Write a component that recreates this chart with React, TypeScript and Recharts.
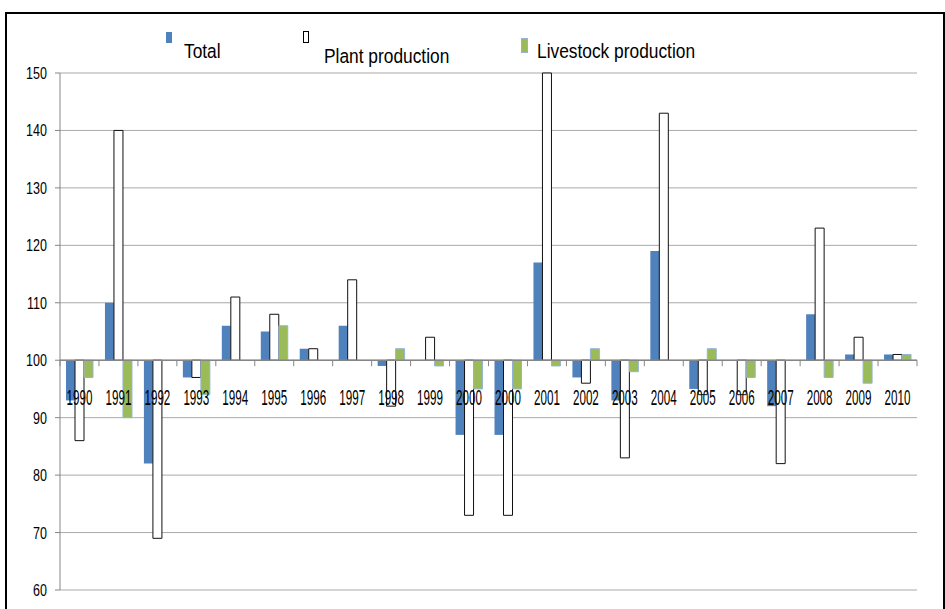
import { Bar, BarChart, CartesianGrid, ReferenceLine, XAxis, YAxis } from 'recharts'

// values (index = 100 means no change)
const years = ['1990', '1991', '1992', '1993', '1994', '1995', '1996', '1997', '1998', '1999', '2000', '2000', '2001', '2002', '2003', '2004', '2005', '2006', '2007', '2008', '2009', '2010']
const total = [93, 110, 82, 97, 106, 105, 102, 106, 99, 100, 87, 87, 117, 97, 93, 119, 95, 100, 92, 108, 101, 101]
const plant = [86, 140, 69, 97, 111, 108, 102, 114, 92, 104, 73, 73, 150, 96, 83, 143, 94, 94, 82, 123, 104, 101]
const livestock = [97, 90, 100, 94, 100, 106, 100, 100, 102, 99, 95, 95, 99, 102, 98, 100, 102, 97, 100, 97, 96, 101]
const yTicks = [60, 70, 80, 90, 100, 110, 120, 130, 140, 150]

const BASE = 100
const Y_MIN = 60
const Y_MAX = 150

const W = 945
const H = 609
const MARGIN = { top: 73, right: 28, bottom: 18, left: 0 }
const Y_AXIS_W = 60
const X_AXIS_H = 1
const PLOT_H = H - MARGIN.top - MARGIN.bottom - X_AXIS_H
const PLOT_W = W - MARGIN.left - MARGIN.right - Y_AXIS_W
const BAND = PLOT_W / years.length
const ZERO_Y = MARGIN.top + ((Y_MAX - BASE) / (Y_MAX - Y_MIN)) * PLOT_H

const BLUE = '#4F81BD'
const GREEN = '#9BBB59'
const AXIS = '#868686'
const GRID = '#A9A9A9'
// Arial-metric font squeezed horizontally: the source image is stretched tall
const FONT = "'Liberation Sans', Arial, sans-serif"

function NarrowText({ x, y, size, squeeze, anchor = 'start', children }: any) {
  return (
    <text
      transform={`translate(${x},${y}) scale(${squeeze},1)`}
      textAnchor={anchor}
      fontFamily={FONT}
      fontSize={size}
      fill="#000"
    >
      {children}
    </text>
  )
}

// each bar runs from the 100 baseline to its value
const rows = years.map((year, i) => ({
  year,
  total: [BASE, total[i]],
  plant: [BASE, plant[i]],
  livestock: [BASE, livestock[i]],
}))

function YearTick(props: any) {
  const { x, payload, index } = props
  const half = BAND / 2
  return (
    <g>
      <line x1={x - half} x2={x - half} y1={ZERO_Y} y2={ZERO_Y + 6} stroke={AXIS} />
      {index === years.length - 1 && (
        <line x1={x + half} x2={x + half} y1={ZERO_Y} y2={ZERO_Y + 6} stroke={AXIS} />
      )}
      <NarrowText x={x} y={ZERO_Y + 45} size={22} squeeze={0.53} anchor="middle">
        {payload.value}
      </NarrowText>
    </g>
  )
}

function ValueTick(props: any) {
  const { x, y, payload } = props
  return (
    <NarrowText x={x} y={y + 6} size={16.7} squeeze={0.75} anchor="end">
      {payload.value}
    </NarrowText>
  )
}

function ChartLegend() {
  return (
    <svg width={W} height={70} style={{ position: 'absolute', left: 0, top: 0 }}>
      <rect x={166} y={32} width={6} height={11} fill={BLUE} />
      <NarrowText x={184} y={58} size={19.5} squeeze={0.89}>Total</NarrowText>
      <rect x={303.5} y={31.5} width={5} height={11} fill="#fff" stroke="#000" />
      <NarrowText x={324} y={63} size={19.5} squeeze={0.89}>Plant production</NarrowText>
      <rect x={521.5} y={38.5} width={6} height={14} fill={GREEN} stroke="#95B3D7" />
      <NarrowText x={537} y={58} size={19.5} squeeze={0.89}>Livestock production</NarrowText>
    </svg>
  )
}

export default function App() {
  return (
    <div style={{ position: 'relative', width: W, height: H, overflow: 'hidden', background: '#fff' }}>
      <style>{'body{margin:0}'}</style>
      <div
        style={{
          position: 'absolute',
          left: 5,
          top: 12,
          width: 936,
          height: 620,
          border: '2px solid #000',
        }}
      />
      <BarChart width={W} height={H} data={rows} margin={MARGIN} barGap={0} barSize={9}>
        <CartesianGrid vertical={false} stroke={GRID} />
        <XAxis
          dataKey="year"
          allowDuplicatedCategory
          axisLine={false}
          tickLine={false}
          height={X_AXIS_H}
          interval={0}
          tick={<YearTick />}
        />
        <YAxis
          width={Y_AXIS_W}
          domain={[Y_MIN, Y_MAX]}
          ticks={yTicks}
          interval={0}
          axisLine={{ stroke: AXIS }}
          tickLine={{ stroke: AXIS }}
          tickSize={5}
          tickMargin={8}
          tick={<ValueTick />}
        />
        <Bar dataKey="total" name="Total" fill={BLUE} isAnimationActive={false} />
        <Bar dataKey="plant" name="Plant production" fill="#fff" stroke="#111" strokeWidth={1} isAnimationActive={false} />
        <Bar dataKey="livestock" name="Livestock production" fill={GREEN} stroke="#95B3D7" strokeWidth={1} isAnimationActive={false} />
        <ReferenceLine y={BASE} stroke={AXIS} strokeWidth={1.5} />
      </BarChart>
      <ChartLegend />
    </div>
  )
}
